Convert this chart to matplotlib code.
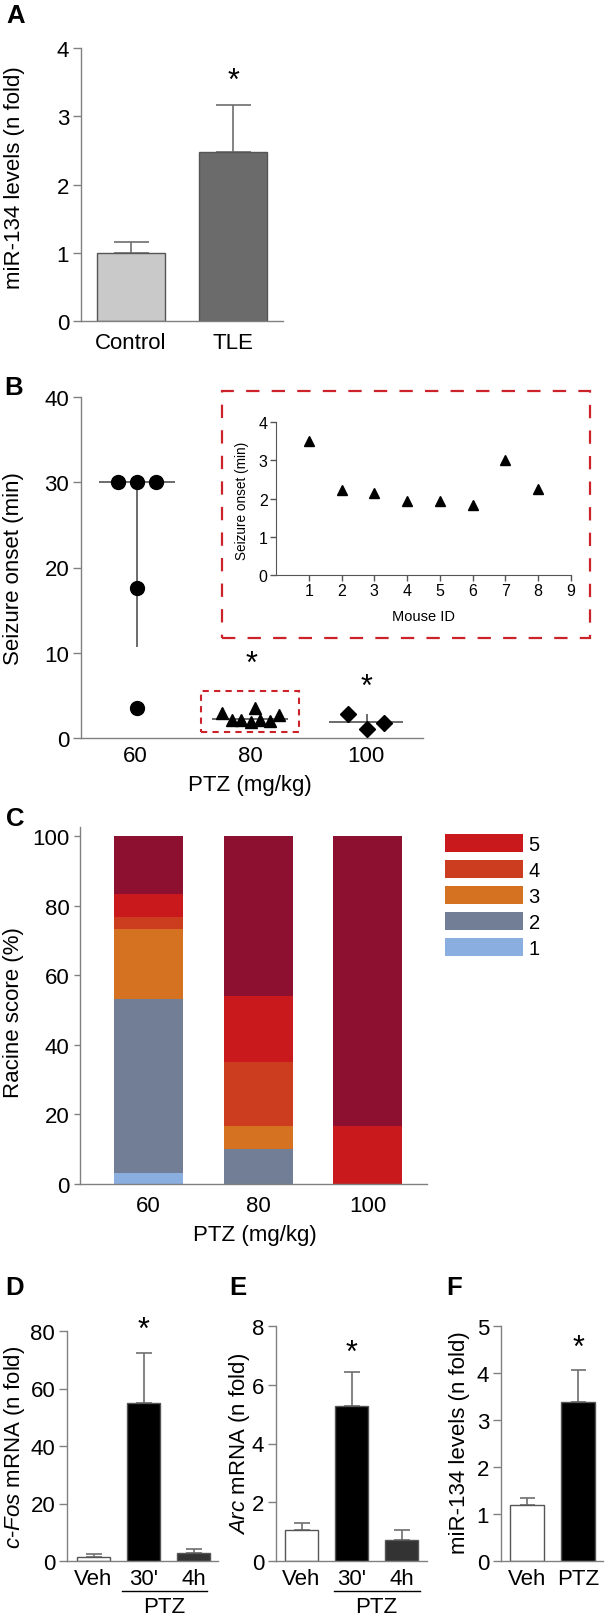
import numpy as np
import matplotlib.pyplot as plt
from matplotlib.patches import Patch, Rectangle

plt.rcParams['font.family'] = ['Liberation Sans', 'DejaVu Sans']
plt.rcParams['mathtext.fontset'] = 'custom'
plt.rcParams['mathtext.rm'] = 'Liberation Sans'
plt.rcParams['mathtext.it'] = 'Liberation Sans:italic'

# ---- data ----
# A
a_groups = ['Control', 'TLE']
a_mean = [1.0, 2.48]
a_top = [1.16, 3.16]

# B (main plot)
b60_x = [57.0, 60.3, 63.6, 60.3, 60.3]
b60_y = [30.0, 30.0, 30.0, 17.6, 3.5]
b60_med, b60_low = 30.0, 10.7
b80_x = [75.1, 76.9, 78.4, 80.2, 80.9, 81.7, 83.5, 85.0]
b80_y = [2.9, 2.15, 2.1, 1.85, 3.5, 2.15, 1.95, 2.7]
b80_med = 2.2
b100_x = [96.9, 100.2, 103.3]
b100_y = [2.8, 1.05, 1.8]
b100_med, b100_hi = 1.85, 2.8
b_doses = [60, 80, 100]

# B inset
mouse_id = [1, 2, 3, 4, 5, 6, 7, 8]
onset_80 = [3.5, 2.22, 2.14, 1.94, 1.94, 1.84, 3.0, 2.25]

# C (Racine score %, bottom to top: 1,2,3,4,5, top stage)
c_doses = ['60', '80', '100']
c_s1 = [3.3, 0, 0]
c_s2 = [50.0, 10.0, 0]
c_s3 = [20.0, 6.7, 0]
c_s4 = [3.3, 18.3, 0]
c_s5 = [6.7, 19.0, 16.7]
c_s6 = [16.7, 46.0, 83.3]
c_legend = ['5', '4', '3', '2', '1']

# D, E, F
d_groups = ['Veh', "30'", '4h']
d_mean = [1.5, 55.0, 2.7]
d_top = [2.5, 72.2, 4.3]
e_mean = [1.05, 5.29, 0.72]
e_top = [1.31, 6.42, 1.07]
f_groups = ['Veh', 'PTZ']
f_mean = [1.19, 3.39]
f_top = [1.35, 4.07]

# ---- figure ----
W, H = 605, 1615
fig = plt.figure(figsize=(W / 100, H / 100), dpi=100)


def box(l, t, r, b):
    return [l / W, 1 - b / H, (r - l) / W, (b - t) / H]


FS = 16
AXC = '#808080'
ERRC = '#6e6e6e'


def style(ax, ylim, yticks, xpad=7):
    for s in ['top', 'right']:
        ax.spines[s].set_visible(False)
    for s in ['left', 'bottom']:
        ax.spines[s].set_color(AXC)
        ax.spines[s].set_linewidth(1.0)
    ax.set_ylim(ylim)
    ax.set_yticks(yticks)
    ax.tick_params(axis='y', direction='out', length=5.5, width=1, color=AXC,
                   labelsize=FS, pad=3)
    ax.tick_params(axis='x', length=0, labelsize=FS, pad=xpad)


def letter(x, y, s):
    fig.text(x / W, 1 - y / H, s, fontsize=18.5, fontweight='bold',
             ha='center', va='center')


def ylab(x, y, s, size=FS):
    fig.text(x / W, 1 - y / H, s, fontsize=size, rotation=90,
             ha='center', va='center')


def star(ax, x, y):
    ax.text(x, y, '*', fontsize=22, ha='center', va='center')


def upper_err(ax, x, mean, top, cap):
    up = np.array(top) - np.array(mean)
    ax.errorbar(x, mean, yerr=[np.zeros(len(up)), up], fmt='none',
                ecolor=ERRC, elinewidth=1.2, capsize=cap, capthick=1.2, zorder=1)


# ---- A ----
axA = fig.add_axes(box(81, 49, 283, 322))
xa = np.arange(len(a_groups))
upper_err(axA, xa, a_mean, a_top, 12.6)
axA.bar(xa, a_mean, width=0.667, color=['#c9c9c9', '#6b6b6b'],
        edgecolor='#555555', linewidth=1, zorder=2)
axA.set_xlim(-0.49, 1.49)
axA.set_xticks(xa)
axA.set_xticklabels(a_groups)
style(axA, (0, 4), [0, 1, 2, 3, 4], xpad=8)
star(axA, 1, 3.52)
letter(16, 16, 'A')
ylab(15, 178, 'miR-134 levels (n fold)')

# ---- B ----
axB = fig.add_axes(box(81, 398, 423, 739))
axB.plot(b60_x, b60_y, 'o', color='k', ms=10, zorder=3)
axB.plot(b80_x, b80_y, '^', color='k', ms=8.5, zorder=3)
axB.plot(b100_x, b100_y, 'D', color='k', ms=8, zorder=3)
axB.hlines(b60_med, 53.7, 67.0, color='#444444', lw=1.1)
axB.vlines(60.3, b60_low, b60_med, color='#444444', lw=1.1)
axB.hlines(b80_med, 73.4, 86.6, color='#444444', lw=1.1)
axB.hlines(b100_med, 93.6, 106.6, color='#444444', lw=1.1)
axB.vlines(100.2, 1.05, b100_hi, color='#444444', lw=1.1)
axB.add_patch(Rectangle((71.5, 0.7), 17.0, 4.8, fill=False, ec='#cc2229',
                        lw=1.5, ls=(0, (3, 2.5)), clip_on=False, zorder=4))
axB.set_xlim(50.6, 110)
axB.set_xticks(b_doses)
style(axB, (0, 40), [0, 10, 20, 30, 40], xpad=5)
star(axB, 80.2, 8.7)
star(axB, 100.2, 6.0)
letter(14, 388, 'B')
ylab(14, 569, 'Seizure onset (min)')
fig.text(250 / W, 1 - 785 / H, 'PTZ (mg/kg)', fontsize=FS, ha='center', va='center')

# inset
axI = fig.add_axes(box(276, 423, 571, 576))
axI.plot(mouse_id, onset_80, '^', color='k', ms=7.5)
axI.set_xlim(0, 9)
axI.set_ylim(0, 4)
axI.set_xticks(range(1, 10))
axI.set_yticks([0, 1, 2, 3, 4])
for s in ['top', 'right']:
    axI.spines[s].set_visible(False)
for s in ['left', 'bottom']:
    axI.spines[s].set_color('#555555')
axI.tick_params(direction='out', length=4, width=1, color='#555555',
                labelsize=11.5, pad=2)
axI.text(0.5, -0.27, 'Mouse ID', transform=axI.transAxes, fontsize=10.5,
         ha='center', va='center')
ylab(242, 501, 'Seizure onset (min)', size=9.8)
fig.add_artist(Rectangle((222 / W, 1 - 639 / H), (590 - 222) / W, (639 - 392) / H,
                         transform=fig.transFigure, fill=False, ec='#cc2229',
                         lw=1.6, ls=(0, (6, 5.5))))

# ---- C ----
axC = fig.add_axes(box(80, 828, 427, 1185))
xc = np.arange(len(c_doses))
c_stack = [c_s1, c_s2, c_s3, c_s4, c_s5, c_s6]
c_colors = ['#8aaee0', '#717e96', '#d57222', '#cc3d1f', '#c9191c', '#8e1030']
bottom = np.zeros(len(c_doses))
for vals, col in zip(c_stack, c_colors):
    axC.bar(xc, vals, width=0.63, bottom=bottom, color=col, linewidth=0)
    bottom += np.array(vals)
axC.set_xlim(-0.626, 2.54)
axC.set_xticks(xc)
axC.set_xticklabels(c_doses)
style(axC, (0, 102.6), [0, 20, 40, 60, 80, 100], xpad=8)
axC.tick_params(axis='y', length=4.5)
handles = [Patch(facecolor=c_colors[int(k)]) for k in ['4', '3', '2', '1', '0']]
fig.legend(handles, c_legend, loc='upper left',
           bbox_to_anchor=(445 / W, 1 - 835 / H), frameon=False, fontsize=14.5,
           handlelength=3.85, handleheight=1.0, labelspacing=0.3,
           handletextpad=0.3, borderpad=0, borderaxespad=0)
letter(15, 819, 'C')
ylab(14, 1013, 'Racine score (%)')
fig.text(255 / W, 1 - 1236 / H, 'PTZ (mg/kg)', fontsize=FS, ha='center', va='center')

# ---- D ----
bar_cols3 = ['white', 'black', '#333333']
axD = fig.add_axes(box(67, 1332, 218, 1562))
xd = np.arange(len(d_groups))
upper_err(axD, xd, d_mean, d_top, 5.8)
axD.bar(xd, d_mean, width=0.66, color=bar_cols3, edgecolor='#555555', linewidth=1, zorder=2)
axD.set_xlim(-0.53, 2.49)
axD.set_xticks(xd)
axD.set_xticklabels(d_groups)
style(axD, (0, 80), [0, 20, 40, 60, 80], xpad=5)
star(axD, 1, 80.3)
axD.plot([0.57, 2.27], [-0.13, -0.13], color='k', lw=1,
         transform=axD.get_xaxis_transform(), clip_on=False)
axD.text(1.42, -0.196, 'PTZ', fontsize=FS, ha='center', va='center',
         transform=axD.get_xaxis_transform())
letter(14.5, 1288, 'D')
fig.text(15 / W, 1 - 1447 / H, r'$\mathit{c}$-$\mathit{Fos}$ mRNA (n fold)', fontsize=FS,
         rotation=90, ha='center', va='center')

# ---- E ----
axE = fig.add_axes(box(276, 1327, 427, 1562))
upper_err(axE, xd, e_mean, e_top, 6.0)
axE.bar(xd, e_mean, width=0.66, color=bar_cols3, edgecolor='#555555', linewidth=1, zorder=2)
axE.set_xlim(-0.51, 2.51)
axE.set_xticks(xd)
axE.set_xticklabels(d_groups)
style(axE, (0, 8), [0, 2, 4, 6, 8], xpad=5)
star(axE, 1, 7.1)
axE.plot([0.65, 2.37], [-0.128, -0.128], color='k', lw=1,
         transform=axE.get_xaxis_transform(), clip_on=False)
axE.text(1.5, -0.192, 'PTZ', fontsize=FS, ha='center', va='center',
         transform=axE.get_xaxis_transform())
letter(238, 1288, 'E')
fig.text(240 / W, 1 - 1444 / H, r'$\mathit{Arc}$ mRNA (n fold)', fontsize=FS,
         rotation=90, ha='center', va='center')

# ---- F ----
axF = fig.add_axes(box(501, 1327, 603, 1562))
xf = np.arange(len(f_groups))
upper_err(axF, xf, f_mean, f_top, 5.4)
axF.bar(xf, f_mean, width=0.66, color=['white', 'black'], edgecolor='#555555',
        linewidth=1, zorder=2)
axF.set_xlim(-0.5, 1.48)
axF.set_xticks(xf)
axF.set_xticklabels(f_groups)
style(axF, (0, 5), [0, 1, 2, 3, 4, 5], xpad=5)
star(axF, 1, 4.53)
letter(454, 1288, 'F')
ylab(460, 1443, 'miR-134 levels (n fold)')

fig.savefig('out.png', dpi=100)
